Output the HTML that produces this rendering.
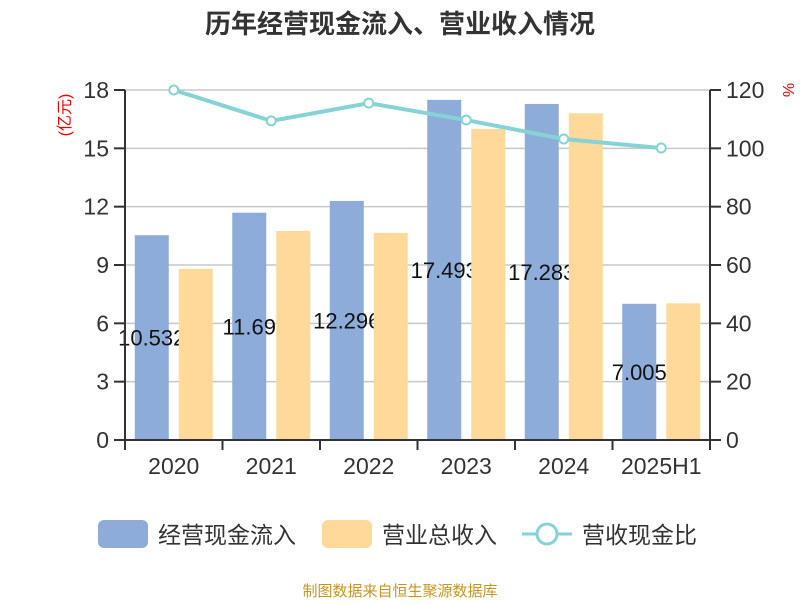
<!DOCTYPE html>
<html><head><meta charset="utf-8"><style>
body{margin:0;background:#fff;}
svg{font-family:"Liberation Sans","Noto Sans CJK SC",sans-serif;}
</style></head><body>
<svg id="c" width="800" height="600" xmlns="http://www.w3.org/2000/svg">
<text x="400" y="33" text-anchor="middle" font-size="26" font-weight="bold" fill="#333">历年经营现金流入、营业收入情况</text>
<text transform="translate(70,115) rotate(-90)" text-anchor="middle" font-size="16" fill="#e00">(亿元)</text>
<text transform="translate(783,90) rotate(90)" text-anchor="middle" font-size="16" fill="#e00">%</text>
<g id="grid"></g><g id="bars"></g><g id="axes"></g><g id="line"></g>
<g>
<rect x="98" y="520" width="50" height="28" rx="6" fill="#8eacd9"/>
<text x="158" y="543" font-size="23" fill="#333">经营现金流入</text>
<rect x="322" y="520" width="50" height="28" rx="6" fill="#ffd99a"/>
<text x="382" y="543" font-size="23" fill="#333">营业总收入</text>
<line x1="522" y1="534" x2="572" y2="534" stroke="#86d3d6" stroke-width="3"/>
<circle cx="547" cy="534" r="10" fill="#fff" stroke="#86d3d6" stroke-width="3"/>
<text x="582" y="543" font-size="23" fill="#333">营收现金比</text>
</g>
<text x="400" y="596" text-anchor="middle" font-size="15" fill="#c8961e">制图数据来自恒生聚源数据库</text>
</svg>
<script>
const categories=["2020","2021","2022","2023","2024","2025H1"];
const cashInflow=[10.532,11.69,12.296,17.493,17.283,7.005];
const cashLabels=["10.532","11.69","12.296","17.493","17.283","7.005"];
const revenue=[8.8,10.75,10.65,16.0,16.8,7.03];
const ratio=[120,109.4,115.5,109.7,103.2,100.1];
const leftTicks=[0,3,6,9,12,15,18];
const rightTicks=[0,20,40,60,80,100,120];
const NS="http://www.w3.org/2000/svg";
const X0=125,X1=710,Y0=440,Y1=90;
const band=(X1-X0)/categories.length;
const yL=v=>Y0-(v/18)*(Y0-Y1);
const yR=v=>Y0-(v/120)*(Y0-Y1);
const xc=i=>X0+band*(i+0.5);
function mk(t,a,p){const e=document.createElementNS(NS,t);for(const k in a)e.setAttribute(k,a[k]);document.getElementById(p).appendChild(e);return e;}
leftTicks.forEach((v,i)=>{
 if(v>0){const g=mk('line',{x1:X0,x2:X1,y1:yL(v),y2:yL(v),stroke:'#c8c8c8','stroke-width':1.5},'grid');
 
 }
 const t=mk('line',{x1:X0-11,x2:X0,y1:yL(v),y2:yL(v),stroke:'#333','stroke-width':2},'axes');
 
 
 const l=mk('text',{x:X0-16,y:yL(v)+8,'text-anchor':'end','font-size':23,fill:'#333'},'axes');l.textContent=v;
 
 
});
rightTicks.forEach(v=>{
 const t=mk('line',{x1:X1,x2:X1+11,y1:yR(v),y2:yR(v),stroke:'#333','stroke-width':2},'axes');
 
 
 const l=mk('text',{x:X1+16,y:yR(v)+8,'font-size':23,fill:'#333'},'axes');l.textContent=v;
 
 
});
let a=mk('line',{x1:X0,x2:X0,y1:Y1,y2:Y0,stroke:'#333','stroke-width':2},'axes');


a=mk('line',{x1:X1,x2:X1,y1:Y1,y2:Y0,stroke:'#333','stroke-width':2},'axes');


a=mk('line',{x1:X0,x2:X1,y1:Y0,y2:Y0,stroke:'#333','stroke-width':2},'axes');


for(let i=0;i<=categories.length;i++){
 const t=mk('line',{x1:X0+band*i,x2:X0+band*i,y1:Y0,y2:Y0+10,stroke:'#333','stroke-width':2},'axes');
 
 
}
categories.forEach((c,i)=>{
 const l=mk('text',{x:xc(i),y:Y0+34,'text-anchor':'middle','font-size':23,fill:'#333'},'axes');l.textContent=c;
 
 
 const b=mk('rect',{x:xc(i)-39,y:yL(cashInflow[i]),width:34,height:Y0-yL(cashInflow[i]),fill:'#8eacd9'},'bars');
 
 
 const v=mk('text',{x:xc(i)-22,y:(yL(cashInflow[i])+Y0)/2+8,'text-anchor':'middle','font-size':22,fill:'#111'},'bars');v.textContent=cashLabels[i];
 
 
 const r=mk('rect',{x:xc(i)+5,y:yL(revenue[i]),width:34,height:Y0-yL(revenue[i]),fill:'#ffd99a'},'bars');
 
 
});
const p=mk('polyline',{points:ratio.map((v,i)=>xc(i)+','+yR(v)).join(' '),fill:'none',stroke:'#86d3d6','stroke-width':4},'line');


ratio.forEach((v,i)=>{
 const c=mk('circle',{cx:xc(i),cy:yR(v),r:4.5,fill:'#fff',stroke:'#86d3d6','stroke-width':2},'line');
 
 
});
</script>
</body></html>
